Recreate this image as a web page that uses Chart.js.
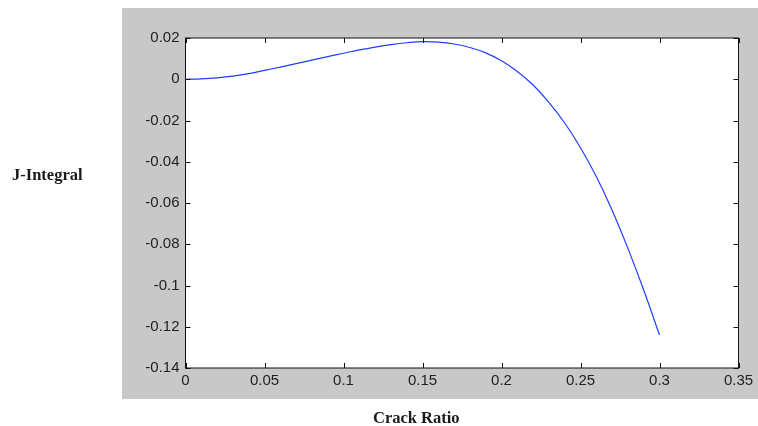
<!DOCTYPE html>
<html>
<head>
<meta charset="utf-8">
<script src="https://cdn.jsdelivr.net/npm/chart.js@4.4.1/dist/chart.umd.min.js"></script>
<style>
  html, body { margin: 0; padding: 0; background: #ffffff; }
  #wrap { position: relative; width: 758px; height: 426px; overflow: hidden; }
  #c { position: absolute; left: 0; top: 0; }
  .title { position: absolute; font-family: "Liberation Serif", "Times New Roman", serif; font-weight: bold; font-size: 16.5px; line-height: 1; color: #1a1a1a; white-space: nowrap; }
  #ytitle { left: 12px; top: 167px; }
  #xtitle { left: 373px; top: 410px; }
</style>
</head>
<body>
<div id="wrap">
  <canvas id="c" width="758" height="426"></canvas>
  <div class="title" id="ytitle">J-Integral</div>
  <div class="title" id="xtitle">Crack Ratio</div>
</div>
<script>
// Data
const crackRatio = [0.00, 0.01, 0.02, 0.03, 0.04, 0.05, 0.06, 0.07, 0.08, 0.09,
                    0.10, 0.11, 0.12, 0.13, 0.14, 0.15, 0.16, 0.17, 0.18, 0.19,
                    0.20, 0.21, 0.22, 0.23, 0.24, 0.25, 0.26, 0.27, 0.28, 0.29, 0.30];
const jIntegral = [0.0000, 0.0002, 0.0007, 0.0015, 0.0027, 0.0043, 0.0059, 0.0076, 0.0093, 0.0110,
                   0.0126, 0.0142, 0.0156, 0.0168, 0.0177, 0.0182, 0.0180, 0.0171, 0.0154, 0.0128,
                   0.0090, 0.0038, -0.0028, -0.0112, -0.0212, -0.0332, -0.0472, -0.0635, -0.0820, -0.1022, -0.1240];
const xTickValues = [0, 0.05, 0.1, 0.15, 0.2, 0.25, 0.3, 0.35];
const yTickValues = [-0.14, -0.12, -0.1, -0.08, -0.06, -0.04, -0.02, 0, 0.02];

const points = crackRatio.map((x, i) => ({ x: x, y: jIntegral[i] }));
const fmt = v => String(Number(Number(v).toFixed(2)));

const framePlugin = {
  id: 'frame',
  beforeDraw(chart) {
    const ctx = chart.ctx;
    const a = chart.chartArea;
    ctx.save();
    ctx.fillStyle = '#c8c8c8';
    ctx.fillRect(122, 8, 636, 391);
    ctx.fillStyle = '#ffffff';
    ctx.fillRect(a.left, a.top, a.right - a.left, a.bottom - a.top);
    ctx.restore();
  },
  afterDatasetsDraw(chart) {
    const ctx = chart.ctx;
    const a = chart.chartArea;
    const xs = chart.scales.x, ys = chart.scales.y;
    const tl = 5;
    ctx.save();
    ctx.strokeStyle = '#111111';
    ctx.lineWidth = 1;
    ctx.beginPath();
    xTickValues.forEach(v => {
      const px = Math.round(xs.getPixelForValue(v)) + 0.5;
      ctx.moveTo(px, a.bottom); ctx.lineTo(px, a.bottom - tl);
      ctx.moveTo(px, a.top); ctx.lineTo(px, a.top + tl);
    });
    yTickValues.forEach(v => {
      const py = Math.round(ys.getPixelForValue(v)) + 0.5;
      ctx.moveTo(a.left, py); ctx.lineTo(a.left + tl, py);
      ctx.moveTo(a.right, py); ctx.lineTo(a.right - tl, py);
    });
    ctx.stroke();
    ctx.strokeRect(a.left, a.top, a.right - a.left, a.bottom - a.top);
    ctx.restore();
  }
};

new Chart(document.getElementById('c'), {
  type: 'scatter',
  data: {
    datasets: [{
      data: points,
      showLine: true,
      borderColor: '#1f3dff',
      borderWidth: 1.2,
      pointRadius: 0,
      fill: false,
      tension: 0.4
    }]
  },
  options: {
    responsive: false,
    animation: false,
    devicePixelRatio: 1,
    layout: { padding: { left: 0, top: 38, right: 19.5, bottom: 0 } },
    plugins: { legend: { display: false }, tooltip: { enabled: false } },
    scales: {
      x: {
        type: 'linear', min: 0, max: 0.35,
        grid: { display: false, drawTicks: false }, border: { display: false },
        afterBuildTicks: s => { s.ticks = xTickValues.map(v => ({ value: v })); },
        afterFit: s => { s.height = 58; },
        ticks: { padding: 4, color: '#222', font: { family: 'Liberation Sans, Arial, sans-serif', size: 15 }, callback: v => fmt(v), maxRotation: 0, autoSkip: false }
      },
      y: {
        type: 'linear', min: -0.14, max: 0.02,
        grid: { display: false, drawTicks: false }, border: { display: false },
        afterBuildTicks: s => { s.ticks = yTickValues.map(v => ({ value: v })); },
        afterFit: s => { s.width = 185.5; },
        ticks: { padding: 6, color: '#222', font: { family: 'Liberation Sans, Arial, sans-serif', size: 15 }, callback: v => fmt(v), autoSkip: false }
      }
    }
  },
  plugins: [framePlugin]
});
</script>
</body>
</html>
